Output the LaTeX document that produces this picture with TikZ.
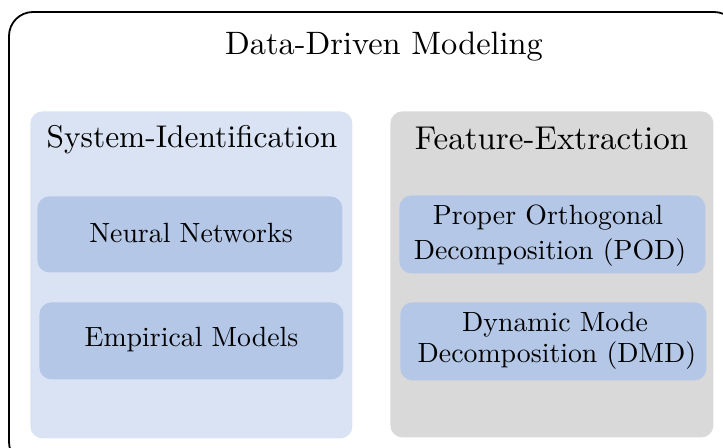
\documentclass[tikz,border=0pt]{standalone}
\usepackage{fontspec}
\usepackage{xcolor}
% 10pt design size of Latin Modern, scaled up
\newfontfamily\tenrm{lmroman10-regular}[Extension=.otf]
\definecolor{panelblue}{HTML}{DAE3F3}
\definecolor{itemblue}{HTML}{B4C7E7}
\definecolor{panelgray}{HTML}{D9D9D9}
\begin{document}
\begin{tikzpicture}[x=0.5pt,y=-0.5pt,
  panel/.style={rectangle,rounded corners=6pt,inner sep=0pt,anchor=north west},
  item/.style={rectangle,rounded corners=6pt,fill=itemblue,inner sep=0pt,anchor=north west},
  label/.style={anchor=base,inner sep=0pt,font=\tenrm\fontsize{13.9}{16}\selectfont},
  heading/.style={anchor=base,inner sep=0pt,font=\tenrm\fontsize{#1}{18}\selectfont},
  heading/.default=16]
\useasboundingbox (0,0) rectangle (723,448);
\begin{scope}
\clip (0,0) rectangle (723,448);
% outer frame, running past the page edges
\draw[line width=0.9pt,rounded corners=12pt] (9,12) rectangle (738,466);
\end{scope}
\node[heading=16.2] (title) at (384,55) {Data-Driven Modeling};
% left column
\node[panel,fill=panelblue,minimum width=161pt,minimum height=163.5pt] (sysid) at (30,111) {};
\node[heading=15.7] (sysidt) at (192,148) {System-Identification};
\node[item,minimum width=152.5pt,minimum height=38pt] (nn) at (37,196) {};
\node[label] (nnt) at (191,243) {Neural Networks};
\node[item,minimum width=152pt,minimum height=38.5pt] (emp) at (39,302) {};
\node[label] (empt) at (191.5,347) {Empirical Models};
% right column
\node[panel,fill=panelgray,minimum width=161.5pt,minimum height=163pt] (feat) at (390,111) {};
\node[heading=16.5] (featt) at (551.5,150) {Feature-Extraction};
\node[item,minimum width=153pt,minimum height=39pt] (pod) at (399,195) {};
\node[label] (podt1) at (548,225) {Proper Orthogonal};
\node[label] (podt2) at (550,260) {Decomposition (POD)};
\node[item,minimum width=153pt,minimum height=39pt] (dmd) at (400,302) {};
\node[label] (dmdt1) at (555,332) {Dynamic Mode};
\node[label] (dmdt2) at (557,363) {Decomposition (DMD)};
\end{tikzpicture}
\end{document}
